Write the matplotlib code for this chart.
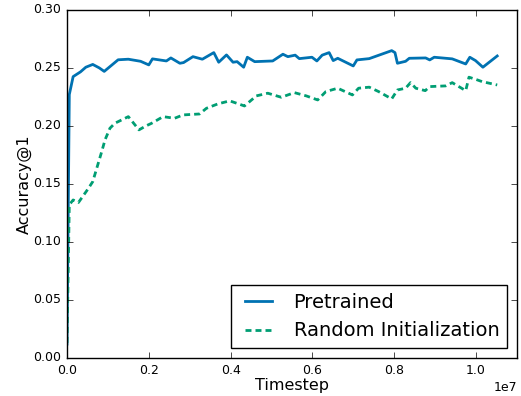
import numpy as np
import matplotlib
matplotlib.use("Agg")
import matplotlib.pyplot as plt

# values (timestep in units of 1e6)
pre_t = [0.0, 0.056, 0.15, 0.33, 0.46, 0.63, 0.79, 0.91, 1.25, 1.5, 1.8, 2.0, 2.09,
         2.43, 2.54, 2.76, 2.85, 3.08, 3.31, 3.59, 3.71, 3.9, 4.06, 4.16, 4.32, 4.41,
         4.59, 5.03, 5.28, 5.4, 5.58, 5.68, 5.99, 6.11, 6.24, 6.41, 6.51, 6.62, 7.0,
         7.09, 7.39, 7.94, 8.02, 8.08, 8.28, 8.37, 8.77, 8.87, 8.98, 9.42, 9.75, 9.85,
         9.99, 10.17, 10.52]
pre_acc = [0.012, 0.227, 0.2425, 0.2466, 0.2506, 0.253, 0.250, 0.247, 0.257, 0.2575,
           0.2557, 0.2526, 0.2578, 0.256, 0.2586, 0.254, 0.2546, 0.2597, 0.2575, 0.2632,
           0.2549, 0.2612, 0.2549, 0.2554, 0.2506, 0.2592, 0.2554, 0.256, 0.2618, 0.2597,
           0.261, 0.258, 0.2592, 0.256, 0.261, 0.2632, 0.2563, 0.2583, 0.2517, 0.2569,
           0.258, 0.2649, 0.2632, 0.254, 0.2557, 0.2583, 0.2586, 0.2569, 0.2592, 0.2578,
           0.2534, 0.2592, 0.2563, 0.2506, 0.2603]

rnd_t = [0.0, 0.056, 0.15, 0.28, 0.52, 0.63, 0.85, 0.93, 1.05, 1.17, 1.5, 1.76, 1.93,
         2.07, 2.35, 2.63, 2.84, 3.24, 3.41, 3.69, 3.98, 4.34, 4.63, 4.91, 5.24, 5.56,
         5.85, 6.13, 6.33, 6.62, 6.98, 7.13, 7.39, 7.62, 7.94, 8.08, 8.28, 8.4, 8.53,
         8.76, 8.87, 9.26, 9.42, 9.75, 9.83, 9.99, 10.15, 10.52]
rnd_acc = [0.013, 0.132, 0.1362, 0.134, 0.146, 0.152, 0.178, 0.188, 0.198, 0.2023,
           0.208, 0.1966, 0.2, 0.2023, 0.208, 0.2066, 0.2095, 0.2103, 0.2152, 0.219,
           0.2216, 0.2172, 0.2259, 0.2282, 0.2247, 0.2287, 0.2259, 0.2224, 0.2296,
           0.2325, 0.2267, 0.2325, 0.2334, 0.2296, 0.2233, 0.231, 0.2325, 0.2373,
           0.2325, 0.2304, 0.2339, 0.2345, 0.2373, 0.2304, 0.242, 0.2402, 0.2382, 0.2353]

labels = ["Pretrained", "Random Initialization"]
colors = ["#0072B2", "#009E73"]

plt.style.use("classic")
plt.rcParams["lines.scale_dashes"] = False
fig = plt.figure(figsize=(5.21, 3.96), dpi=100, facecolor="white")
ax = fig.add_axes([0.1286, 0.096, 0.8634, 0.879])

ax.plot(np.array(pre_t) * 1e6, pre_acc, color=colors[0], lw=2, ls="-", label=labels[0])
ax.plot(np.array(rnd_t) * 1e6, rnd_acc, color=colors[1], lw=2, ls="--",
        dashes=(4.3, 2.9), label=labels[1])

ax.set_xlim(0, 1.1e7)
ax.set_ylim(0, 0.30)
ax.set_yticks(np.arange(0, 0.301, 0.05))
ax.set_xlabel("Timestep", fontsize=11.5, labelpad=1)
ax.set_ylabel("Accuracy@1", fontsize=11.5, labelpad=1)
ax.tick_params(labelsize=9)
ax.xaxis.get_offset_text().set_fontsize(9)
ax.legend(loc="lower right", fontsize=14, frameon=True)

fig.savefig("out.png", dpi=100, facecolor="white")
